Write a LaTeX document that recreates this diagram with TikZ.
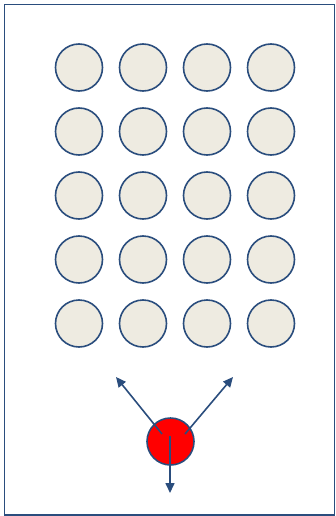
\documentclass[tikz,border=0pt]{standalone}
\usepackage{xcolor}
\definecolor{edgeblue}{HTML}{2A4D7D}
\definecolor{ballfill}{HTML}{EEEBE1}
\definecolor{strikered}{HTML}{FF0000}
\usepackage{tikz}
\usetikzlibrary{arrows.meta}

\begin{document}
\begin{tikzpicture}[x=1pt, y=-1pt,
    ball/.style={circle, fill=ballfill, draw=edgeblue, line width=1.6pt,
                 inner sep=0pt, minimum size=47pt},
    cue/.style={ball, fill=strikered},
    shot/.style={draw=edgeblue, line width=1.6pt,
                 -{Triangle[length=10pt, width=9pt]}}]
  \useasboundingbox (0,0) rectangle (336,516);
  % table border
  \draw[edgeblue, line width=1.4pt] (4.5,4.5) rectangle (334.5,515);

  % rack of balls, 5 rows by 4 columns
  \foreach \r in {1,...,5}
    \foreach \c in {1,...,4}
      \node[ball] (ball\r\c) at ({15+64*\c}, {3.5+64*\r}) {};

  % striker and its three shots
  \node[cue] (striker) at (170.5,441.5) {};
  \coordinate (fromL) at (162,434);
  \coordinate (fromR) at (185,434);
  \coordinate (fromD) at (170,436);
  \coordinate (toL) at (116,377);
  \coordinate (toR) at (233,377);
  \coordinate (toD) at (170,493);
  \draw[shot] (fromL) -- (toL);
  \draw[shot] (fromR) -- (toR);
  \draw[shot] (fromD) -- (toD);
\end{tikzpicture}
\end{document}
